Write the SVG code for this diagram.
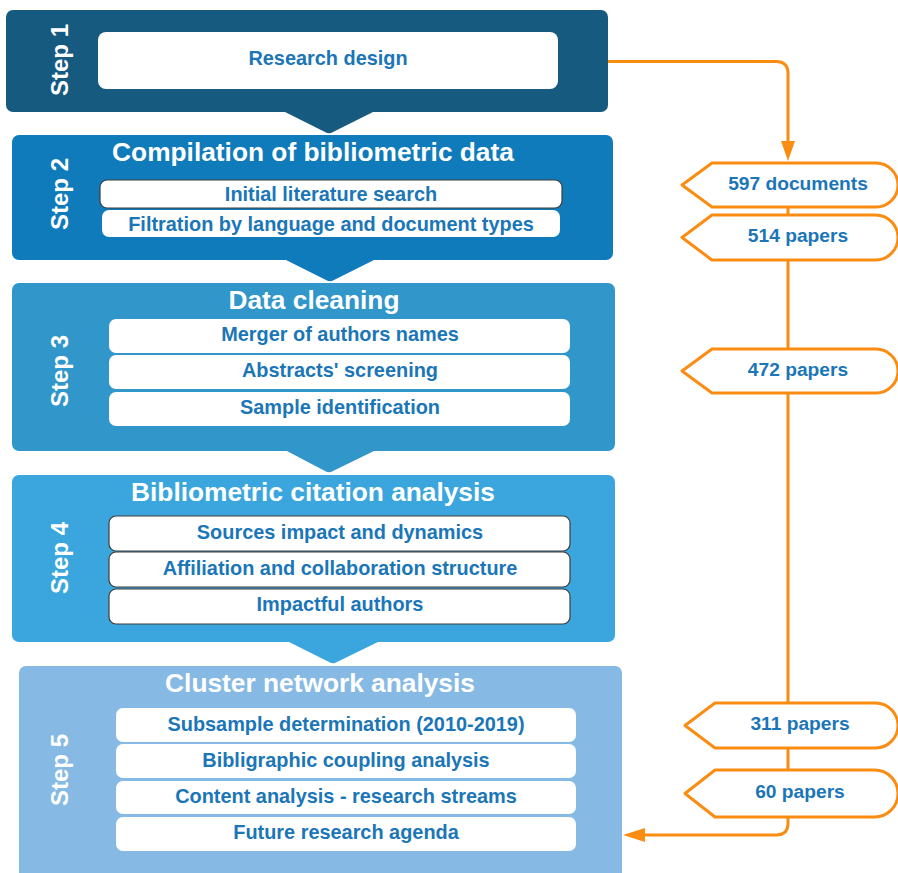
<svg xmlns="http://www.w3.org/2000/svg" width="898" height="873" viewBox="0 0 898 873">
<defs>
<style>
.title{font-family:"Liberation Sans",Arial,sans-serif;font-weight:bold;font-size:26.3px;fill:#ffffff;text-anchor:middle}
.step{font-family:"Liberation Sans",Arial,sans-serif;font-weight:bold;font-size:24px;fill:#ffffff;text-anchor:middle}
.item{font-family:"Liberation Sans",Arial,sans-serif;font-weight:bold;font-size:19.9px;fill:#1b76b8;text-anchor:middle}
.tagt{font-family:"Liberation Sans",Arial,sans-serif;font-weight:bold;font-size:19.2px;fill:#1b76b8;text-anchor:middle}
.wb{fill:#ffffff}
.wbd{fill:#ffffff;stroke:#3c3c3c;stroke-width:1.2}
.tag{fill:#ffffff;stroke:#fb8c12;stroke-width:3;stroke-linejoin:round}
.conn{fill:none;stroke:#fb8c12;stroke-width:3}
</style>
</defs>

<g id="connectors">
<path class="conn" d="M608,61.5 H776 Q788,61.5 788,73.5 V142"/>
<path d="M781,141 L795,141 L788,161 Z" fill="#fb8c12"/>
<path class="conn" d="M788,207 V215 M788,260 V349 M788,393 V703 M788,748 V770 M788,817 V823 Q788,835 776,835 H643"/>
<path d="M645,828 L645,842 L623,835 Z" fill="#fb8c12"/>
</g>

<g id="step5">
<rect x="19" y="666" width="603" height="215" rx="7" fill="#86bae4"/>
<text class="title" x="320" y="692">Cluster network analysis</text>
<text class="step" transform="translate(68,770) rotate(-90)">Step 5</text>
<rect class="wb" x="116" y="708" width="460" height="34" rx="7"/>
<text class="item" x="346" y="731">Subsample determination (2010-2019)</text>
<rect class="wb" x="116" y="744" width="460" height="34" rx="7"/>
<text class="item" x="346" y="767">Bibligraphic coupling analysis</text>
<rect class="wb" x="116" y="781" width="460" height="33" rx="7"/>
<text class="item" x="346" y="803">Content analysis - research streams</text>
<rect class="wb" x="116" y="817" width="460" height="34" rx="7"/>
<text class="item" x="346" y="839">Future research agenda</text>
</g>

<g id="step4">
<rect x="12" y="475" width="603" height="167" rx="7" fill="#3aa6dd"/>
<path d="M287,641 L380,641 L337,662 Q333,664.5 329,662 Z" fill="#3aa6dd"/>
<text class="title" x="313" y="501">Bibliometric citation analysis</text>
<text class="step" transform="translate(68,558) rotate(-90)">Step 4</text>
<rect class="wbd" x="109" y="516" width="461" height="35" rx="7"/>
<text class="item" x="340" y="539">Sources impact and dynamics</text>
<rect class="wbd" x="109" y="552" width="461" height="35" rx="7"/>
<text class="item" x="340" y="575">Affiliation and collaboration structure</text>
<rect class="wbd" x="109" y="589" width="461" height="35" rx="7"/>
<text class="item" x="340" y="611">Impactful authors</text>
</g>

<g id="step3">
<rect x="12" y="283" width="603" height="168" rx="7" fill="#3196ca"/>
<path d="M285,450 L376,450 L333,471 Q329,473.5 325,471 Z" fill="#3196ca"/>
<text class="title" x="314" y="309">Data cleaning</text>
<text class="step" transform="translate(68,371) rotate(-90)">Step 3</text>
<rect class="wb" x="109" y="319" width="461" height="34" rx="7"/>
<text class="item" x="340" y="341">Merger of authors names</text>
<rect class="wb" x="109" y="355" width="461" height="34" rx="7"/>
<text class="item" x="340" y="377">Abstracts' screening</text>
<rect class="wb" x="109" y="392" width="461" height="34" rx="7"/>
<text class="item" x="340" y="414">Sample identification</text>
</g>

<g id="step2">
<rect x="12" y="135" width="601" height="125" rx="7" fill="#0f7bbb"/>
<path d="M284,259 L376,259 L334,280 Q330,282.5 326,280 Z" fill="#0f7bbb"/>
<text class="title" x="313" y="161">Compilation of bibliometric data</text>
<text class="step" transform="translate(68,194) rotate(-90)">Step 2</text>
<rect class="wbd" x="100" y="180" width="462" height="28" rx="7"/>
<text class="item" x="331" y="201">Initial literature search</text>
<rect class="wb" x="102" y="210" width="458" height="27" rx="7"/>
<text class="item" x="331" y="231">Filtration by language and document types</text>
</g>

<g id="step1">
<rect x="6" y="10" width="602" height="102" rx="7" fill="#165a7f"/>
<path d="M283,111 L375,111 L333,132 Q329,134.5 325,132 Z" fill="#165a7f"/>
<text class="step" transform="translate(68,60) rotate(-90)">Step 1</text>
<rect class="wb" x="98" y="32" width="460" height="57" rx="8"/>
<text class="item" x="328" y="65">Research design</text>
</g>

<g id="tag597">
<path class="tag" d="M682,185 L712,163 H876 A22,22 0 0 1 876,207 H712 Z"/>
<text class="tagt" x="798" y="190">597 documents</text>
</g>
<g id="tag514">
<path class="tag" d="M682,237.5 L712,215 H875.5 A22.5,22.5 0 0 1 875.5,260 H712 Z"/>
<text class="tagt" x="798" y="242">514 papers</text>
</g>
<g id="tag472">
<path class="tag" d="M682,371 L712,349 H876 A22,22 0 0 1 876,393 H712 Z"/>
<text class="tagt" x="798" y="376">472 papers</text>
</g>
<g id="tag311">
<path class="tag" d="M685,725.5 L715,703 H875.5 A22.5,22.5 0 0 1 875.5,748 H715 Z"/>
<text class="tagt" x="800" y="730">311 papers</text>
</g>
<g id="tag60">
<path class="tag" d="M685,793.5 L715,770 H874.5 A23.5,23.5 0 0 1 874.5,817 H715 Z"/>
<text class="tagt" x="800" y="798">60 papers</text>
</g>
</svg>
